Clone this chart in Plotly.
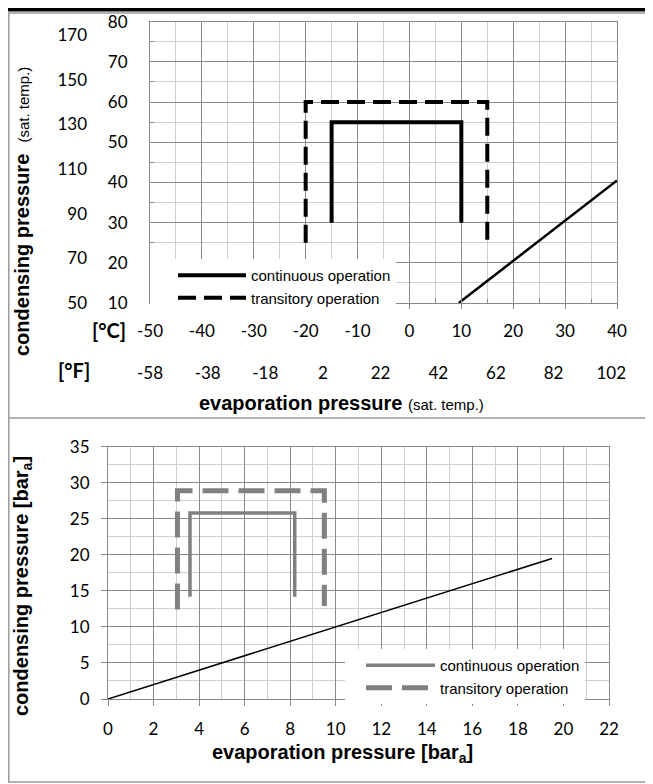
import plotly.graph_objects as go

# the page body adds an 8 px margin, so the figure is drawn 8 px smaller and
# every pixel position below is given in window coordinates and shifted back.
WIN_W, WIN_H = 653, 784
OX, OY = 8, 8
FW, FH = WIN_W - OX, WIN_H - OY

# ---------------- data: top chart (saturation temperature, deg C) ----------------
top_cont_x = [-15, -15, 10, 10]
top_cont_y = [30, 55, 55, 30]
top_trans_x = [-20, -20, 15, 15]
top_trans_y = [25, 60, 60, 25]
top_diag_x = [9.5, 40]
top_diag_y = [10, 40.5]

top_xc_ticks = [-50, -40, -30, -20, -10, 0, 10, 20, 30, 40]
top_xf_ticks = [-58, -38, -18, 2, 22, 42, 62, 82, 102]
top_yc_ticks = [10, 20, 30, 40, 50, 60, 70, 80]
top_yf_ticks = [50, 70, 90, 110, 130, 150, 170]

# ---------------- data: bottom chart (absolute pressure, bara) ----------------
bot_cont_x = [3.6, 3.6, 8.2, 8.2]
bot_cont_y = [14.2, 25.8, 25.8, 14.2]
bot_trans_x = [3.05, 3.05, 9.5, 9.5]
bot_trans_y = [12.4, 28.9, 28.9, 12.9]
bot_diag_x = [0, 19.5]
bot_diag_y = [0, 19.5]

bot_x_ticks = [0, 2, 4, 6, 8, 10, 12, 14, 16, 18, 20, 22]
bot_y_ticks = [0, 5, 10, 15, 20, 25, 30, 35]

legend_names = ["continuous operation", "transitory operation"]


def labels(vals):
    return [str(v) for v in vals]


def px(p):
    return (p - OX) / FW


def py(p):
    return 1 - (p - OY) / FH


MAJ = "#8a8a8a"
MIN = "#cfcfcf"
TICKFONT = dict(family="Lato, Carlito, sans-serif", size=17, color="black")
LEGFONT = dict(family="Liberation Sans, Arial, sans-serif", size=15, color="black")
TITLEFONT = dict(family="Liberation Sans, Arial, sans-serif", size=20, color="black")

fig = go.Figure()

# top chart traces
fig.add_trace(go.Scatter(x=top_cont_x, y=top_cont_y, mode="lines", name=legend_names[0],
                         line=dict(color="black", width=4), xaxis="x", yaxis="y",
                         legend="legend"))
fig.add_trace(go.Scatter(x=top_trans_x, y=top_trans_y, mode="lines", name=legend_names[1],
                         line=dict(color="black", width=4, dash="18px,8px"), xaxis="x", yaxis="y",
                         legend="legend"))
fig.add_trace(go.Scatter(x=top_diag_x, y=top_diag_y, mode="lines", showlegend=False,
                         line=dict(color="black", width=2.5), xaxis="x", yaxis="y"))
# helper (invisible) traces so the Fahrenheit axes are drawn
fig.add_trace(go.Scatter(x=top_xf_ticks, y=[45] * len(top_xf_ticks), mode="markers",
                         marker=dict(opacity=0), showlegend=False, hoverinfo="skip",
                         xaxis="x2", yaxis="y"))
fig.add_trace(go.Scatter(x=[-45] * len(top_yf_ticks), y=top_yf_ticks, mode="markers",
                         marker=dict(opacity=0), showlegend=False, hoverinfo="skip",
                         xaxis="x", yaxis="y2"))

# bottom chart traces
fig.add_trace(go.Scatter(x=bot_cont_x, y=bot_cont_y, mode="lines", name=legend_names[0],
                         line=dict(color="#808080", width=3.5), xaxis="x3", yaxis="y3",
                         legend="legend2"))
fig.add_trace(go.Scatter(x=bot_trans_x, y=bot_trans_y, mode="lines", name=legend_names[1],
                         line=dict(color="#808080", width=5, dash="26px,10px"), xaxis="x3", yaxis="y3",
                         legend="legend2"))
fig.add_trace(go.Scatter(x=bot_diag_x, y=bot_diag_y, mode="lines", showlegend=False,
                         line=dict(color="black", width=1.5), xaxis="x3", yaxis="y3"))

common = dict(showgrid=True, gridcolor=MAJ, gridwidth=1, zeroline=False,
              showline=True, linecolor=MAJ, linewidth=1, mirror=True,
              tickfont=TICKFONT, tickcolor=MAJ, automargin=False, tickmode="array")

fig.update_layout(
    width=FW, height=FH,
    margin=dict(l=0, r=0, t=0, b=0, pad=0, autoexpand=False),
    paper_bgcolor="white", plot_bgcolor="white",
    xaxis=dict(domain=[px(150), px(617)], range=[-50, 40], anchor="y",
               tickvals=top_xc_ticks, ticktext=labels(top_xc_ticks),
               ticks="outside", ticklen=5, ticklabelstandoff=8,
               minor=dict(dtick=5, showgrid=True, gridcolor=MIN, ticks="inside",
                          ticklen=4, tickcolor=MAJ),
               **common),
    yaxis=dict(domain=[py(303), py(21.7)], range=[10, 80], anchor="x",
               tickvals=top_yc_ticks, ticktext=labels(top_yc_ticks),
               ticks="", ticklabelstandoff=18,
               minor=dict(dtick=5, showgrid=True, gridcolor=MIN, ticks="inside",
                          ticklen=4, tickcolor=MAJ),
               **common),
    xaxis2=dict(overlaying="x", anchor="free", position=py(361), side="bottom",
                range=[-58, 104], tickmode="array", tickvals=top_xf_ticks,
                ticktext=labels(top_xf_ticks), showgrid=False, zeroline=False,
                showline=False, ticks="", tickfont=TICKFONT, automargin=False),
    yaxis2=dict(overlaying="y", anchor="free", position=px(87), side="left",
                range=[50, 176], tickmode="array", tickvals=top_yf_ticks,
                ticktext=labels(top_yf_ticks), showgrid=False, zeroline=False,
                showline=False, ticks="", tickfont=TICKFONT, automargin=False),
    xaxis3=dict(domain=[px(108), px(609)], range=[0, 22], anchor="y3",
                tickvals=bot_x_ticks, ticktext=labels(bot_x_ticks),
                ticks="outside", ticklen=6, ticklabelstandoff=9,
                minor=dict(dtick=1, showgrid=True, gridcolor=MIN),
                **common),
    yaxis3=dict(domain=[py(699), py(446.7)], range=[0, 35], anchor="x3",
                tickvals=bot_y_ticks, ticktext=labels(bot_y_ticks),
                ticks="outside", ticklen=6, ticklabelstandoff=8,
                minor=dict(dtick=2.5, showgrid=True, gridcolor=MIN),
                **common),
    legend=dict(x=px(150), y=py(259), xanchor="left", yanchor="top", bgcolor="white",
                borderwidth=0, font=LEGFONT, itemwidth=68, tracegroupgap=0,
                indentation=23),
    legend2=dict(x=px(345), y=py(649), xanchor="left", yanchor="top", bgcolor="white",
                 borderwidth=0, font=LEGFONT, itemwidth=69, tracegroupgap=0,
                 indentation=16),
    showlegend=True,
)

shapes = [
    # black header rule (top edge of the page)
    dict(type="rect", xref="paper", yref="paper", x0=0, x1=1, y0=py(OY + 3.5), y1=1,
         fillcolor="black", line=dict(width=0), layer="above"),
    # outer frame
    dict(type="rect", xref="paper", yref="paper", x0=px(OX + 0.8), x1=px(650),
         y0=py(782), y1=py(OY + 5),
         line=dict(color="#9a9a9a", width=1.5), fillcolor="rgba(0,0,0,0)", layer="below"),
    # divider between the two panels
    dict(type="line", xref="paper", yref="paper", x0=px(OX + 0.8), x1=px(650), y0=py(418), y1=py(418),
         line=dict(color="#9a9a9a", width=1.5)),
]
fig.update_layout(shapes=shapes)

BOLD_UNIT = dict(family="Lato, Carlito, sans-serif", size=20, color="black")
annotations = [
    dict(text="<b>[°C]</b>", x=px(128), y=py(330), xref="paper", yref="paper",
         xanchor="right", yanchor="middle", showarrow=False, font=BOLD_UNIT),
    dict(text="<b>[°F]</b>", x=px(92), y=py(370), xref="paper", yref="paper",
         xanchor="right", yanchor="middle", showarrow=False, font=BOLD_UNIT),
    dict(text="<b>evaporation pressure</b> <span style='font-size:15px'>(sat. temp.)</span>",
         x=px(341), y=py(403), xref="paper", yref="paper", xanchor="center", yanchor="middle",
         showarrow=False, font=TITLEFONT),
    dict(text="<b>condensing pressure</b>  <span style='font-size:15px'>(sat. temp.)</span>",
         x=px(22), y=py(212), xref="paper", yref="paper", xanchor="center", yanchor="middle",
         textangle=-90, showarrow=False, font=TITLEFONT),
    dict(text="<b>evaporation pressure [bar<sub>a</sub>]</b>",
         x=px(342), y=py(753), xref="paper", yref="paper", xanchor="center", yanchor="middle",
         showarrow=False, font=TITLEFONT),
    dict(text="<b>condensing pressure [bar<sub>a</sub>]</b>",
         x=px(22), y=py(586), xref="paper", yref="paper", xanchor="center", yanchor="middle",
         textangle=-90, showarrow=False, font=TITLEFONT),
]
fig.update_layout(annotations=annotations)

fig.write_html("out.html")
